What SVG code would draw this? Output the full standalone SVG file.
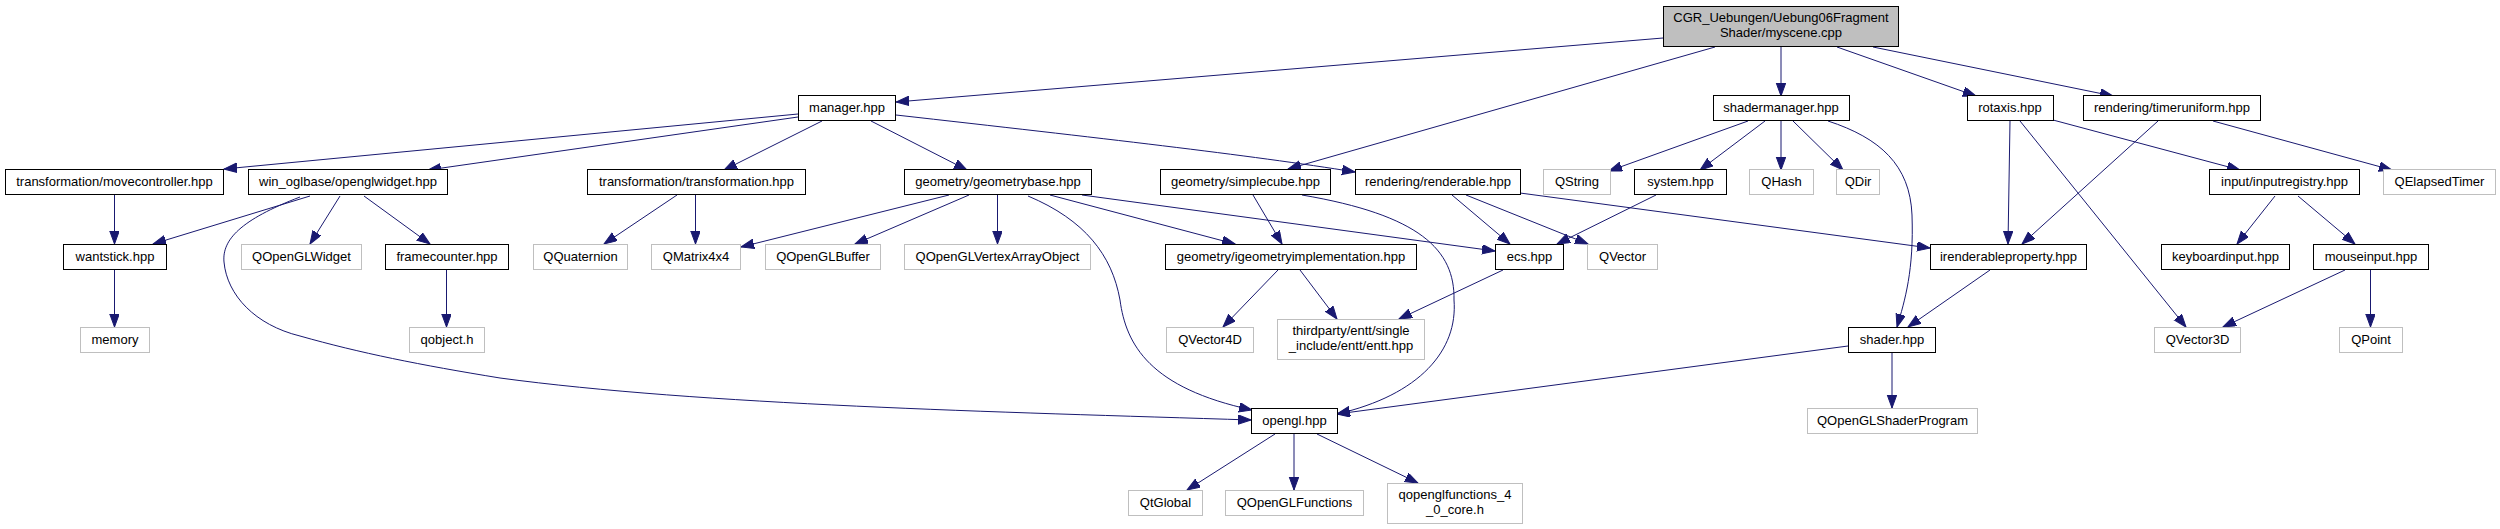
<svg xmlns="http://www.w3.org/2000/svg" width="2500" height="529" viewBox="0 0 2500 529">
<defs>
<style>
.n rect{fill:#fff;stroke:#000;stroke-width:1}
.x rect{fill:#fff;stroke:#bfbfbf;stroke-width:1}
.r rect{fill:#bfbfbf;stroke:#000;stroke-width:1}
text{font-family:"Liberation Sans",Arial,Helvetica,sans-serif;font-size:13px;fill:#000;text-anchor:middle}
.e path{fill:none;stroke:#191970;stroke-width:1;marker-end:url(#ah)}
</style>
<marker id="ah" markerUnits="userSpaceOnUse" markerWidth="14" markerHeight="11" refX="13" refY="4.75" orient="auto">
<path d="M0,0 L13,4.75 L0,9.5 z" fill="#191970" stroke="#191970" stroke-width="1"/>
</marker>
</defs>
<rect width="2500" height="529" fill="#fff"/>
<g id="edges" class="e">
<path d="M1663,38 L896,102"/>
<path d="M1715,47 L1288,169"/>
<path d="M1781,47 L1781,96"/>
<path d="M1837,47 L1976,96"/>
<path d="M1873,47 L2113,96"/>
<path d="M798,114 L224,169"/>
<path d="M798,117 L428,170"/>
<path d="M822,121 L724,170"/>
<path d="M871,121 L967,170"/>
<path d="M896,115 C1100,138 1250,155 1355,172"/>
<path d="M310,196 L153,244"/>
<path d="M340,196 L310,244"/>
<path d="M364,196 L430,244"/>
<path d="M300,197 C240,220 222,240 224,262 C227,295 255,325 300,336 C360,353 420,365 500,378 C700,405 1000,412 1251,420"/>
<path d="M114.5,195 L114.5,244"/>
<path d="M114.5,270 L114.5,327"/>
<path d="M446.5,270 L446.5,327"/>
<path d="M677,195 L604,244"/>
<path d="M695.5,195 L695.5,244"/>
<path d="M949,195 L741,247"/>
<path d="M969,195 L855,244"/>
<path d="M997.5,195 L997.5,244"/>
<path d="M1028,196 C1085,220 1112,255 1120,300 C1126,345 1150,388 1252,410"/>
<path d="M1050,195 L1235,244"/>
<path d="M1082,195 L1495,251"/>
<path d="M1253,195 L1282,244"/>
<path d="M1302,195 C1420,215 1455,250 1454,300 C1458,350 1420,395 1337,414"/>
<path d="M1452,195 L1510,244"/>
<path d="M1466,195 L1588,244"/>
<path d="M1520,193 L1930,248"/>
<path d="M1748,121 L1609,171"/>
<path d="M1765,121 L1700,170"/>
<path d="M1781,121 L1781,170"/>
<path d="M1793,121 L1843,170"/>
<path d="M1828,121 C1880,138 1910,165 1912,215 C1914,270 1905,300 1897,327"/>
<path d="M1656,195 L1557,244"/>
<path d="M2010,121 L2008,244"/>
<path d="M2020,121 L2186,327"/>
<path d="M2053,120 L2240,170"/>
<path d="M2158,121 L2022,244"/>
<path d="M2213,121 L2392,170"/>
<path d="M2275,196 L2237,244"/>
<path d="M2298,196 L2355,244"/>
<path d="M2345,270 L2223,327"/>
<path d="M2370.5,270 L2370.5,327"/>
<path d="M1990,270 L1908,327"/>
<path d="M1278,270 L1223,327"/>
<path d="M1300,270 L1337,319"/>
<path d="M1503,270 L1399,319"/>
<path d="M1848,346 L1337,414"/>
<path d="M1892,352 L1892,408"/>
<path d="M1275,434 L1187,490"/>
<path d="M1294,434 L1294,490"/>
<path d="M1317,434 L1418,483"/>
</g>
<g id="root" class="r"><rect x="1663.5" y="6.5" width="235" height="40"/><text x="1781" y="22">CGR_Uebungen/Uebung06Fragment</text><text x="1781" y="37">Shader/myscene.cpp</text></g>
<g id="manager" class="n"><rect x="798.5" y="95.5" width="97" height="25"/><text x="847" y="112">manager.hpp</text></g>
<g id="shadermanager" class="n"><rect x="1713.5" y="95.5" width="136" height="25"/><text x="1781" y="112">shadermanager.hpp</text></g>
<g id="rotaxis" class="n"><rect x="1967.5" y="95.5" width="86" height="25"/><text x="2010" y="112">rotaxis.hpp</text></g>
<g id="timeruniform" class="n"><rect x="2083.5" y="95.5" width="177" height="25"/><text x="2172" y="112">rendering/timeruniform.hpp</text></g>
<g id="movecontroller" class="n"><rect x="5.5" y="169.5" width="218" height="25"/><text x="114.5" y="186">transformation/movecontroller.hpp</text></g>
<g id="openglwidget" class="n"><rect x="248.5" y="169.5" width="199" height="25"/><text x="348" y="186">win_oglbase/openglwidget.hpp</text></g>
<g id="transformation" class="n"><rect x="587.5" y="169.5" width="218" height="25"/><text x="696.5" y="186">transformation/transformation.hpp</text></g>
<g id="geometrybase" class="n"><rect x="904.5" y="169.5" width="187" height="25"/><text x="998" y="186">geometry/geometrybase.hpp</text></g>
<g id="simplecube" class="n"><rect x="1160.5" y="169.5" width="170" height="25"/><text x="1245.5" y="186">geometry/simplecube.hpp</text></g>
<g id="renderable" class="n"><rect x="1355.5" y="169.5" width="165" height="25"/><text x="1438" y="186">rendering/renderable.hpp</text></g>
<g id="QString" class="x"><rect x="1543.5" y="169.5" width="67" height="25"/><text x="1577" y="186">QString</text></g>
<g id="system" class="n"><rect x="1634.5" y="169.5" width="92" height="25"/><text x="1680.5" y="186">system.hpp</text></g>
<g id="QHash" class="x"><rect x="1749.5" y="169.5" width="64" height="25"/><text x="1781.5" y="186">QHash</text></g>
<g id="QDir" class="x"><rect x="1836.5" y="169.5" width="43" height="25"/><text x="1858" y="186">QDir</text></g>
<g id="inputregistry" class="n"><rect x="2209.5" y="169.5" width="150" height="25"/><text x="2284.5" y="186">input/inputregistry.hpp</text></g>
<g id="QElapsedTimer" class="x"><rect x="2383.5" y="169.5" width="112" height="25"/><text x="2439.5" y="186">QElapsedTimer</text></g>
<g id="wantstick" class="n"><rect x="63.5" y="244.5" width="103" height="25"/><text x="115" y="261">wantstick.hpp</text></g>
<g id="QOpenGLWidget" class="x"><rect x="241.5" y="244.5" width="120" height="25"/><text x="301.5" y="261">QOpenGLWidget</text></g>
<g id="framecounter" class="n"><rect x="385.5" y="244.5" width="123" height="25"/><text x="447" y="261">framecounter.hpp</text></g>
<g id="QQuaternion" class="x"><rect x="533.5" y="244.5" width="94" height="25"/><text x="580.5" y="261">QQuaternion</text></g>
<g id="QMatrix4x4" class="x"><rect x="651.5" y="244.5" width="89" height="25"/><text x="696" y="261">QMatrix4x4</text></g>
<g id="QOpenGLBuffer" class="x"><rect x="765.5" y="244.5" width="115" height="25"/><text x="823" y="261">QOpenGLBuffer</text></g>
<g id="QOpenGLVertexArrayObject" class="x"><rect x="904.5" y="244.5" width="186" height="25"/><text x="997.5" y="261">QOpenGLVertexArrayObject</text></g>
<g id="igeometryimplementation" class="n"><rect x="1165.5" y="244.5" width="251" height="25"/><text x="1291" y="261">geometry/igeometryimplementation.hpp</text></g>
<g id="ecs" class="n"><rect x="1495.5" y="244.5" width="68" height="25"/><text x="1529.5" y="261">ecs.hpp</text></g>
<g id="QVector" class="x"><rect x="1587.5" y="244.5" width="70" height="25"/><text x="1622.5" y="261">QVector</text></g>
<g id="irenderableproperty" class="n"><rect x="1930.5" y="244.5" width="156" height="25"/><text x="2008.5" y="261">irenderableproperty.hpp</text></g>
<g id="keyboardinput" class="n"><rect x="2161.5" y="244.5" width="128" height="25"/><text x="2225.5" y="261">keyboardinput.hpp</text></g>
<g id="mouseinput" class="n"><rect x="2313.5" y="244.5" width="115" height="25"/><text x="2371" y="261">mouseinput.hpp</text></g>
<g id="memory" class="x"><rect x="80.5" y="327.5" width="69" height="25"/><text x="115" y="344">memory</text></g>
<g id="qobject" class="x"><rect x="409.5" y="327.5" width="75" height="25"/><text x="447" y="344">qobject.h</text></g>
<g id="QVector4D" class="x"><rect x="1166.5" y="327.5" width="87" height="25"/><text x="1210" y="344">QVector4D</text></g>
<g id="thirdparty" class="x"><rect x="1277.5" y="319.5" width="147" height="40"/><text x="1351" y="335">thirdparty/entt/single</text><text x="1351" y="350">_include/entt/entt.hpp</text></g>
<g id="shader" class="n"><rect x="1848.5" y="327.5" width="87" height="25"/><text x="1892" y="344">shader.hpp</text></g>
<g id="QVector3D" class="x"><rect x="2154.5" y="327.5" width="86" height="25"/><text x="2197.5" y="344">QVector3D</text></g>
<g id="QPoint" class="x"><rect x="2339.5" y="327.5" width="63" height="25"/><text x="2371" y="344">QPoint</text></g>
<g id="opengl" class="n"><rect x="1251.5" y="408.5" width="86" height="25"/><text x="1294.5" y="425">opengl.hpp</text></g>
<g id="QOpenGLShaderProgram" class="x"><rect x="1807.5" y="408.5" width="170" height="25"/><text x="1892.5" y="425">QOpenGLShaderProgram</text></g>
<g id="QtGlobal" class="x"><rect x="1128.5" y="490.5" width="74" height="25"/><text x="1165.5" y="507">QtGlobal</text></g>
<g id="QOpenGLFunctions" class="x"><rect x="1225.5" y="490.5" width="138" height="25"/><text x="1294.5" y="507">QOpenGLFunctions</text></g>
<g id="qopenglfunctions" class="x"><rect x="1387.5" y="483.5" width="135" height="40"/><text x="1455" y="499">qopenglfunctions_4</text><text x="1455" y="514">_0_core.h</text></g>
</svg>
